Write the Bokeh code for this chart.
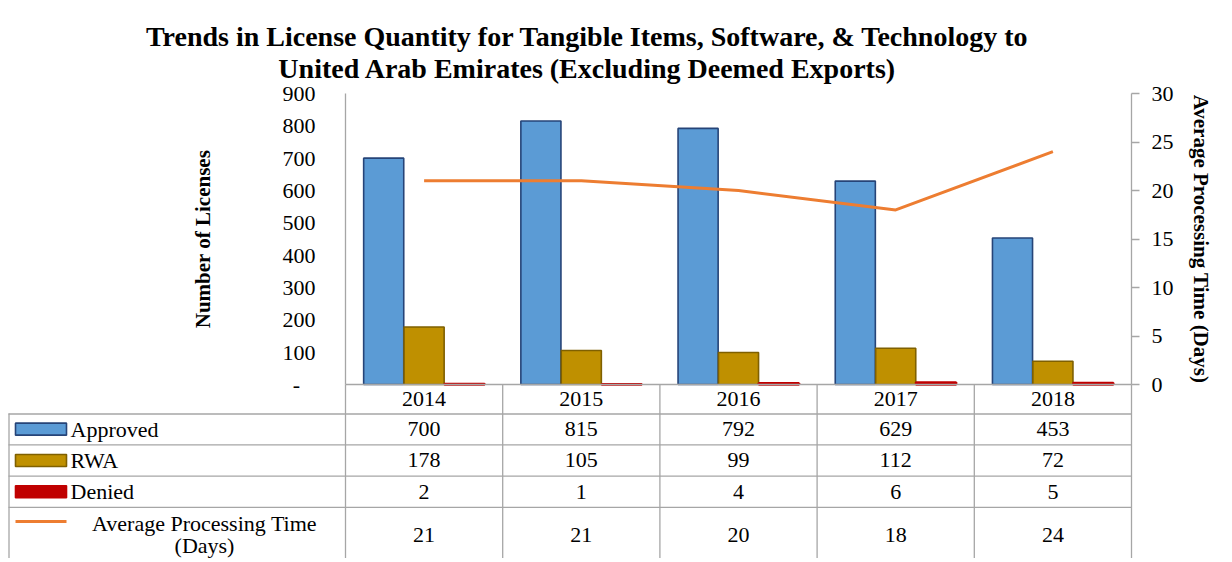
from bokeh.plotting import figure
from bokeh.models import ColumnDataSource, Range1d, LinearAxis, FixedTicker
from bokeh.transform import dodge
from bokeh.core.properties import value
from bokeh.embed import file_html
from bokeh.resources import INLINE

# ---------------- data ----------------
years = ["2014", "2015", "2016", "2017", "2018"]
approved = [700, 815, 792, 629, 453]
rwa = [178, 105, 99, 112, 72]
denied = [2, 1, 4, 6, 5]
apt = [21, 21, 20, 18, 24]
series_names = ["Approved", "RWA", "Denied", "Average Processing Time (Days)"]
left_ticks = [0, 100, 200, 300, 400, 500, 600, 700, 800, 900]
right_ticks = [0, 5, 10, 15, 20, 25, 30]
title_lines = ["Trends in License Quantity for Tangible Items, Software, & Technology to",
               "United Arab Emirates (Excluding Deemed Exports)"]
left_label = "Number of Licenses"
right_label = "Average Processing Time (Days)"

# ---------------- styles ----------------
FONT = "Liberation Serif"
GRID = "#A6A6A6"
C_APP, C_APP_LINE = "#5B9BD5", "#264478"
C_RWA, C_RWA_LINE = "#BF9000", "#7F6000"
C_DEN, C_DEN_LINE = "#C00000", "#C00000"
C_APT = "#ED7D31"
TXT = "#000000"
FS = "22px"

# ---------------- layout (figure pixels) ----------------
W, H = 1228, 558
COL_L, COL_R = 345, 1131          # plot area left / right
PLOT_T, AXIS_Y, HEADER_B = 93, 384, 413
TABLE_L = 8
ROW_H = 31.3
n = len(years)
col_w = (COL_R - COL_L) / n
k = (AXIS_Y - PLOT_T) / 900.0     # px per licence
k2 = (AXIS_Y - PLOT_T) / 30.0     # px per day

def xu(px):            # figure px -> column units
    return (px - COL_L) / col_w

def yl(py):            # figure px -> licences
    return (AXIS_Y - py) / k

def yr(py):            # figure px -> table rows
    return (py - HEADER_B) / ROW_H

p = figure(width=W, height=H,
           x_range=Range1d(xu(0), xu(W)), y_range=Range1d(yl(H), yl(0)),
           output_backend="svg", toolbar_location=None,
           x_axis_location=None, y_axis_location=None,
           min_border_left=0, min_border_right=0, min_border_top=0, min_border_bottom=0)
p.outline_line_color = None
p.xgrid.visible = False
p.ygrid.visible = False
p.background_fill_color = "white"
p.border_fill_color = "white"
p.extra_y_ranges = {"days": Range1d((AXIS_Y - H) / k2, AXIS_Y / k2),
                    "tbl": Range1d(yr(H), yr(0))}

# left axis (licences)
ya = LinearAxis(ticker=FixedTicker(ticks=left_ticks), axis_label=left_label,
                fixed_location=0, bounds=(0, 900))
ya.major_label_overrides = {0: "-\u2007\u2009"}
ya.major_tick_out = 0
ya.major_tick_in = 0
ya.minor_tick_out = 0
ya.minor_tick_in = 0
ya.axis_line_color = GRID
ya.axis_line_width = 1.3
ya.major_label_standoff = 30
ya.major_label_text_font = FONT
ya.major_label_text_font_size = FS
ya.major_label_text_color = TXT
ya.axis_label_text_font = FONT
ya.axis_label_text_font_size = "21px"
ya.axis_label_text_font_style = "bold"
ya.axis_label_text_color = TXT
ya.axis_label_standoff = 65
p.add_layout(ya, "left")

# right axis (days)
ra = LinearAxis(y_range_name="days", ticker=FixedTicker(ticks=right_ticks), axis_label=right_label,
                fixed_location=n, bounds=(0, 30))
ra.major_tick_out = 8
ra.major_tick_in = 0
ra.minor_tick_out = 0
ra.minor_tick_in = 0
ra.major_tick_line_color = GRID
ra.major_tick_line_width = 1.3
ra.axis_line_color = GRID
ra.axis_line_width = 1.3
ra.major_label_standoff = 12
ra.major_label_text_font = FONT
ra.major_label_text_font_size = FS
ra.major_label_text_color = TXT
ra.axis_label_text_font = FONT
ra.axis_label_text_font_size = "21px"
ra.axis_label_text_font_style = "bold"
ra.axis_label_text_color = TXT
ra.axis_label_standoff = 12
p.add_layout(ra, "right")

# bottom axis: year labels at column centres (header row of the table)
centres = [i + 0.5 for i in range(n)]
xa = LinearAxis(ticker=FixedTicker(ticks=centres, minor_ticks=[]),
                fixed_location=0, bounds=(0, n))
xa.major_label_overrides = {c: y for c, y in zip(centres, years)}
xa.major_tick_out = 0
xa.major_tick_in = 0
xa.minor_tick_out = 0
xa.minor_tick_in = 0
xa.axis_line_color = GRID
xa.axis_line_width = 1.3
xa.major_label_standoff = 7
xa.major_label_text_font = FONT
xa.major_label_text_font_size = FS
xa.major_label_text_color = TXT
p.add_layout(xa, "below")

# bars + line
src = ColumnDataSource(dict(year=years, xc=centres, approved=approved, rwa=rwa, denied=denied, apt=apt))
BW = 0.255
OFFS = 0.257
p.vbar(x=dodge("xc", -OFFS), top="approved", bottom=0, width=BW, source=src,
       fill_color=C_APP, line_color=C_APP_LINE, line_width=1.6)
p.vbar(x=dodge("xc", 0), top="rwa", bottom=0, width=BW, source=src,
       fill_color=C_RWA, line_color=C_RWA_LINE, line_width=1.6)
p.vbar(x=dodge("xc", OFFS), top="denied", bottom=0, width=BW, source=src,
       fill_color=C_DEN, line_color=C_DEN_LINE, line_width=2.4)
p.line(x="xc", y="apt", source=src, y_range_name="days", line_color=C_APT, line_width=3)

# title
p.text(x=[xu(587)] * 2, y=[yl(36), yl(68)], text=title_lines, text_align="center",
       text_baseline="middle", text_font=value(FONT), text_font_size=value("28px"),
       text_font_style="bold", text_color=TXT)

# ---------------- data table ----------------
ybot = yr(H) + 0.2
hy = [yr(HEADER_B + 0.5), 1, 2, 3]
p.segment(x0=[xu(TABLE_L)] * len(hy), x1=[n] * len(hy), y0=hy, y1=hy, y_range_name="tbl",
          line_color=GRID, line_width=1.3)
# outer left border of the table
p.segment(x0=[xu(TABLE_L + 0.5)], x1=[xu(TABLE_L + 0.5)], y0=[0], y1=[ybot], y_range_name="tbl",
          line_color=GRID, line_width=1.3)
# column separators, starting at the category axis
vx = list(range(n + 1))
p.segment(x0=vx, x1=vx, y0=[yr(AXIS_Y)] * len(vx), y1=[ybot] * len(vx), y_range_name="tbl",
          line_color=GRID, line_width=1.3)

row_y = [0.5, 1.5, 2.5, yr(534)]
for vals, ry in zip([approved, rwa, denied, apt], row_y):
    p.text(x=centres, y=[ry] * n, text=[str(v) for v in vals], y_range_name="tbl",
           text_align="center", text_baseline="middle", text_font=value(FONT),
           text_font_size=value(FS), text_color=TXT)

# legend keys in the table
kx0, kx1 = xu(15), xu(66)
kh = 12 / ROW_H
for (fc, lc), ry in zip([(C_APP, C_APP_LINE), (C_RWA, C_RWA_LINE), (C_DEN, C_DEN_LINE)], row_y[:3]):
    p.quad(left=kx0, right=kx1, bottom=ry + kh / 2, top=ry - kh / 2, y_range_name="tbl",
           fill_color=fc, line_color=lc, line_width=1.6)
ly = yr(521)
p.line(x=[kx0, kx1], y=[ly, ly], y_range_name="tbl", line_color=C_APT, line_width=3)

p.text(x=[xu(70)] * 3, y=row_y[:3], text=series_names[:3], y_range_name="tbl",
       text_align="left", text_baseline="middle", text_font=value(FONT),
       text_font_size=value(FS), text_color=TXT)
cut = series_names[3].index(" (")
apt_parts = [series_names[3][:cut], series_names[3][cut + 1:]]
p.text(x=[xu(204)] * 2, y=[yr(523), yr(545)], text=apt_parts, y_range_name="tbl",
       text_align="center", text_baseline="middle", text_font=value(FONT),
       text_font_size=value(FS), text_color=TXT)

open("out.html", "w").write(file_html(p, INLINE))
